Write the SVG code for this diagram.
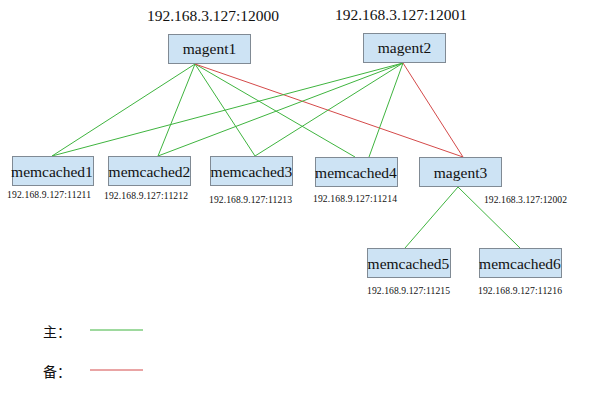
<svg xmlns="http://www.w3.org/2000/svg" width="589" height="403" viewBox="0 0 589 403">
<style>
.box{fill:#cde3f4;stroke:#808a94;stroke-width:1}
text{font-family:'Liberation Serif','Times New Roman',serif;fill:#111}
.nt{font-size:15.5px;text-anchor:middle}
.ip{font-size:9.6px}
.big{font-size:15.5px;text-anchor:middle}
.g{stroke:#3fb43f;stroke-width:1;fill:none}
.r{stroke:#d44a4a;stroke-width:1;fill:none}
text.lg{font-family:'Noto Sans CJK SC','Noto Sans CJK JP',sans-serif;font-size:14px}
</style>
<rect width="589" height="403" fill="#fff"/>
<g id="connectors">
<line class="g" x1="195" y1="64" x2="52" y2="156"/>
<line class="g" x1="195" y1="64" x2="158" y2="156"/>
<line class="g" x1="195" y1="64" x2="255" y2="156"/>
<line class="g" x1="195" y1="64" x2="355" y2="157"/>
<line class="r" x1="195" y1="64" x2="463" y2="157"/>
<line class="g" x1="403" y1="63" x2="52" y2="156"/>
<line class="g" x1="403" y1="63" x2="158" y2="156"/>
<line class="g" x1="403" y1="63" x2="255" y2="156"/>
<line class="g" x1="403" y1="63" x2="369" y2="157"/>
<line class="r" x1="403" y1="63" x2="463" y2="157"/>
<line class="g" x1="458" y1="187" x2="405" y2="248"/>
<line class="g" x1="458" y1="187" x2="520" y2="248"/>
</g>
<g id="magent1">
<text class="big" x="213" y="21" font-family="Liberation Serif, serif">192.168.3.127:12000</text>
<rect class="box" x="168.5" y="34.5" width="82" height="29"/>
<text class="nt" x="209.5" y="54" font-family="Liberation Serif, serif">magent1</text>
</g>
<g id="magent2">
<text class="big" x="401" y="20" font-family="Liberation Serif, serif">192.168.3.127:12001</text>
<rect class="box" x="363.5" y="33.5" width="82" height="29"/>
<text class="nt" x="404.5" y="53" font-family="Liberation Serif, serif">magent2</text>
</g>
<g id="memcached1">
<rect class="box" x="12.5" y="156.5" width="81" height="29"/>
<text class="nt" x="52" y="177" font-family="Liberation Serif, serif">memcached1</text>
<text class="ip" x="7" y="198" textLength="84" font-family="Liberation Serif, serif">192.168.9.127:11211</text>
</g>
<g id="memcached2">
<rect class="box" x="108.5" y="156.5" width="82" height="29"/>
<text class="nt" x="149.5" y="177" font-family="Liberation Serif, serif">memcached2</text>
<text class="ip" x="104" y="199" textLength="84" font-family="Liberation Serif, serif">192.168.9.127:11212</text>
</g>
<g id="memcached3">
<rect class="box" x="210.5" y="156.5" width="82" height="29"/>
<text class="nt" x="251.5" y="177" font-family="Liberation Serif, serif">memcached3</text>
<text class="ip" x="209" y="203" textLength="83" font-family="Liberation Serif, serif">192.168.9.127:11213</text>
</g>
<g id="memcached4">
<rect class="box" x="315.5" y="157.5" width="82" height="29"/>
<text class="nt" x="356" y="178" font-family="Liberation Serif, serif">memcached4</text>
<text class="ip" x="313" y="202" textLength="84" font-family="Liberation Serif, serif">192.168.9.127:11214</text>
</g>
<g id="magent3">
<rect class="box" x="419.5" y="157.5" width="82" height="29"/>
<text class="nt" x="460.5" y="178" font-family="Liberation Serif, serif">magent3</text>
<text class="ip" x="484" y="203" textLength="83" font-family="Liberation Serif, serif">192.168.3.127:12002</text>
</g>
<g id="memcached5">
<rect class="box" x="367.5" y="248.5" width="83" height="29"/>
<text class="nt" x="408.5" y="269" font-family="Liberation Serif, serif">memcached5</text>
<text class="ip" x="367" y="294" textLength="83" font-family="Liberation Serif, serif">192.168.9.127:11215</text>
</g>
<g id="memcached6">
<rect class="box" x="479.5" y="248.5" width="82" height="29"/>
<text class="nt" x="520" y="269" font-family="Liberation Serif, serif">memcached6</text>
<text class="ip" x="478" y="294" textLength="84" font-family="Liberation Serif, serif">192.168.9.127:11216</text>
</g>
<g id="legend">
<text class="lg" x="43" y="337">主：</text>
<line class="g" x1="90" y1="330" x2="143" y2="330"/>
<text class="lg" x="43" y="377">备：</text>
<line class="r" x1="90" y1="370" x2="143" y2="370"/>
</g>
</svg>
